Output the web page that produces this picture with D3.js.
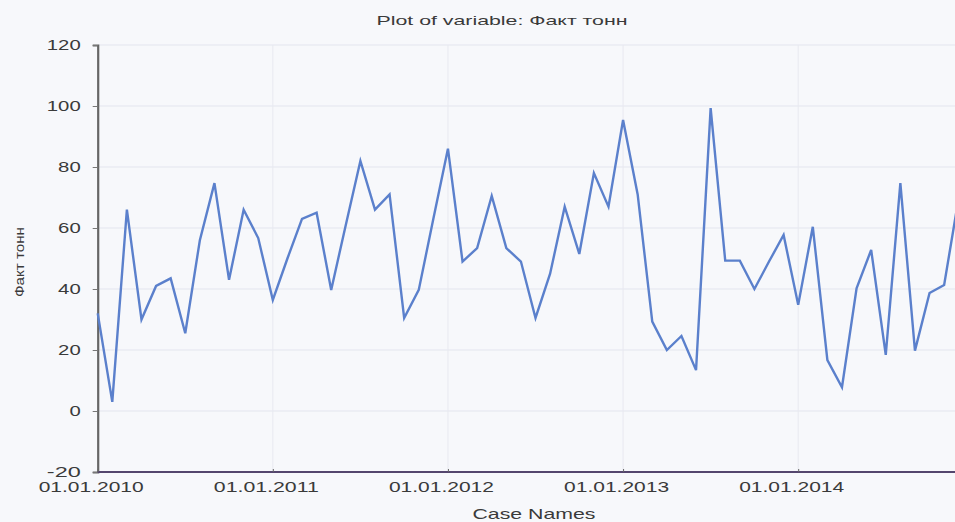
<!DOCTYPE html>
<html><head><meta charset="utf-8">
<script src="https://cdn.jsdelivr.net/npm/d3@7"></script>
<style>
html,body{margin:0;padding:0;background:#f7f8fb;}
svg{display:block;font-family:"Liberation Sans",Arial,sans-serif;}
</style></head>
<body>
<svg id="chart" width="955" height="522"></svg>
<script>
const titleText = "Plot of variable: Факт тонн";
const yTitle = "Факт тонн";
const xTitle = "Case Names";
const xTickIndex = [0, 12, 24, 36, 48];
const xTickLabels = ["01.01.2010", "01.01.2011", "01.01.2012", "01.01.2013", "01.01.2014"];
const yTicks = [-20, 0, 20, 40, 60, 80, 100, 120];
const values2010 = [32, 3, 66, 30, 41, 43.5, 25.5, 56, 74.7, 43, 66, 56.7];
const values2011 = [36.4, 50, 63, 65, 39.7, 61, 82, 66, 71, 30.5, 39.7, 63];
const values2012 = [86, 49, 53.4, 70.5, 53.4, 49, 30.5, 45, 67, 51.5, 78, 67];
const values2013 = [95.4, 71, 29.3, 20, 24.6, 13.4, 99.3, 49.3, 49.3, 40, 49, 57.7];
const values2014 = [34.8, 60.4, 16.7, 7.8, 40.2, 52.8, 18.4, 74.7, 19.8, 38.7, 41.3, 70];
const series = [].concat(values2010, values2011, values2012, values2013, values2014);

const svg = d3.select("#chart");
const x = d3.scaleLinear().domain([0, 48]).range([97.7, 798.2]);
const y = d3.scaleLinear().domain([-20, 120]).range([472, 45]);
const pLeft = 97.7, pRight = 955, pTop = 45, pBottom = 472;

// grid
const grid = svg.append("g");
grid.selectAll("line.h").data(yTicks.filter(d => d > -20)).enter().append("line")
  .attr("x1", pLeft).attr("x2", pRight).attr("y1", d => y(d)).attr("y2", d => y(d))
  .attr("stroke", "#e3e5ee").attr("stroke-width", 1);
grid.selectAll("line.v").data(xTickIndex.filter(d => d > 0)).enter().append("line")
  .attr("x1", d => x(d)).attr("x2", d => x(d)).attr("y1", pTop).attr("y2", pBottom)
  .attr("stroke", "#e8e9f0").attr("stroke-width", 1);

// y axis
const yAxis = svg.append("g").attr("transform", `translate(${pLeft},0)`)
  .call(d3.axisLeft(y).tickValues(yTicks).tickSize(5).tickPadding(12).tickFormat(d => String(d)));
yAxis.select(".domain").attr("stroke", "#666").attr("stroke-width", 2.2);
yAxis.selectAll(".tick line").attr("stroke", "#777");
yAxis.selectAll("text").attr("font-size", 14).attr("fill", "#3a3a3a")
  .attr("textLength", d => String(d).length * 11.3).attr("lengthAdjust", "spacingAndGlyphs");

// x axis
const xAxis = svg.append("g").attr("transform", `translate(0,${pBottom})`)
  .call(d3.axisBottom(x).tickValues(xTickIndex).tickSize(-3).tickPadding(10)
    .tickFormat((d, i) => xTickLabels[i]));
xAxis.select(".domain").attr("stroke", "#54466e").attr("stroke-width", 2).attr("d", `M${pLeft},0H${pRight}`);
xAxis.selectAll(".tick line").attr("stroke", "#666");
xAxis.selectAll("text").attr("font-size", 14).attr("fill", "#3a3a3a").attr("dx", -7)
  .attr("textLength", 105).attr("lengthAdjust", "spacingAndGlyphs");

// line
const line = d3.line().x((d, i) => x(i)).y(d => y(d));
svg.append("path").datum(series).attr("d", line)
  .attr("fill", "none").attr("stroke", "#5b80cc").attr("stroke-width", 2.4)
  .attr("stroke-linejoin", "miter");

// titles
svg.append("text").attr("x", 502).attr("y", 25).attr("text-anchor", "middle")
  .attr("font-size", 13).attr("fill", "#3a3a3a")
  .attr("textLength", 251).attr("lengthAdjust", "spacingAndGlyphs").text(titleText);
svg.append("text").attr("transform", "translate(24,262) rotate(-90)").attr("text-anchor", "middle")
  .attr("font-size", 13).attr("fill", "#3a3a3a")
  .attr("textLength", 70).attr("lengthAdjust", "spacingAndGlyphs").text(yTitle);
svg.append("text").attr("x", 534).attr("y", 519).attr("text-anchor", "middle")
  .attr("font-size", 15).attr("fill", "#3a3a3a")
  .attr("textLength", 123).attr("lengthAdjust", "spacingAndGlyphs").text(xTitle);
</script>
</body></html>
